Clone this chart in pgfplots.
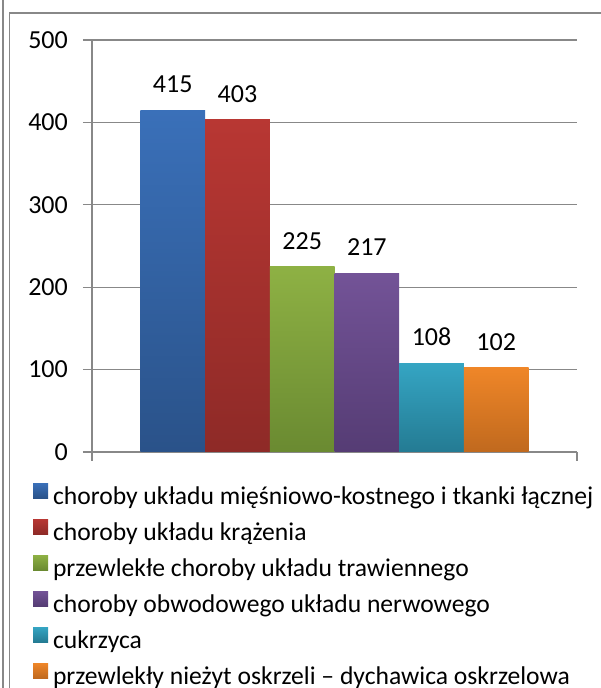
\documentclass[border=0pt]{standalone}
\usepackage{pgfplots}
\pgfplotsset{compat=1.18}
\usepackage{fontspec}
\setmainfont{Carlito}
\definecolor{axgray}{HTML}{888888}
\definecolor{btop}{HTML}{3A70B9}\definecolor{bbot}{HTML}{2A5289}
\definecolor{rtop}{HTML}{B83733}\definecolor{rbot}{HTML}{8E2A27}
\definecolor{gtop}{HTML}{8EB144}\definecolor{gbot}{HTML}{6A8A31}
\definecolor{ptop}{HTML}{735397}\definecolor{pbot}{HTML}{553C74}
\definecolor{ttop}{HTML}{35A5C3}\definecolor{tbot}{HTML}{247B93}
\definecolor{otop}{HTML}{EF8628}\definecolor{obot}{HTML}{C0691E}
\begin{document}
\begin{tikzpicture}
\useasboundingbox (0,0) rectangle (601bp,688bp);
\begin{axis}[
  at={(92bp,236bp)}, anchor=south west,
  scale only axis, width=485bp, height=412bp,
  xmin=-1, xmax=1, ymin=0, ymax=500,
  ybar=0pt, bar width=64.7bp,
  axis lines=left, axis line style={-, draw=axgray, line width=1.2bp},
  ymajorgrids, grid style={draw=axgray, line width=1.2bp},
  ytick={0,100,200,300,400,500}, yticklabels={0,100,200,300,400,500},
  xtick={-1,1}, xticklabels={},
  tick align=outside, major tick length=9bp,
  tick style={draw=axgray, line width=1.2bp},
  /pgf/number format/assume math mode=true,
  yticklabel style={font=\fontsize{26bp}{30bp}\selectfont, inner sep=0pt, xshift=-15bp},
  nodes near coords,
  nodes near coords style={font=\fontsize{26bp}{30bp}\selectfont, anchor=south, inner sep=0pt, yshift=17bp, text=black},
  legend cell align=left,
  legend style={at={(0,0)}, anchor=north west, xshift=-59bp, yshift=-31bp,
    draw=none, fill=none, inner sep=0pt, outer sep=0pt,
    row sep=9bp, column sep=5bp,
    font=\fontsize{25.6bp}{30bp}\selectfont,
    nodes={inner sep=0pt, text height=18bp, text depth=6bp}},
  legend image code/.code={\fill[#1] (0bp,0bp) rectangle (15bp,15bp);},
]
\addplot[draw=none, top color=btop, bottom color=bbot] coordinates {(0,415)};
\addplot[draw=none, top color=rtop, bottom color=rbot] coordinates {(0,403)};
\addplot[draw=none, top color=gtop, bottom color=gbot] coordinates {(0,225)};
\addplot[draw=none, top color=ptop, bottom color=pbot] coordinates {(0,217)};
\addplot[draw=none, top color=ttop, bottom color=tbot] coordinates {(0,108)};
\addplot[draw=none, top color=otop, bottom color=obot] coordinates {(0,102)};
\legend{choroby układu mięśniowo-kostnego i tkanki łącznej,
  choroby układu krążenia,
  przewlekłe choroby układu trawiennego,
  choroby obwodowego układu nerwowego,
  cukrzyca,
  przewlekły nieżyt oskrzeli – dychawica oskrzelowa}
\end{axis}
\draw[axgray, line width=1.2bp] (3bp,0) -- (3bp,688bp);
\draw[axgray, line width=1.2bp] (9.5bp,0) -- (9.5bp,675bp) -- (601bp,675bp);
\end{tikzpicture}
\end{document}
